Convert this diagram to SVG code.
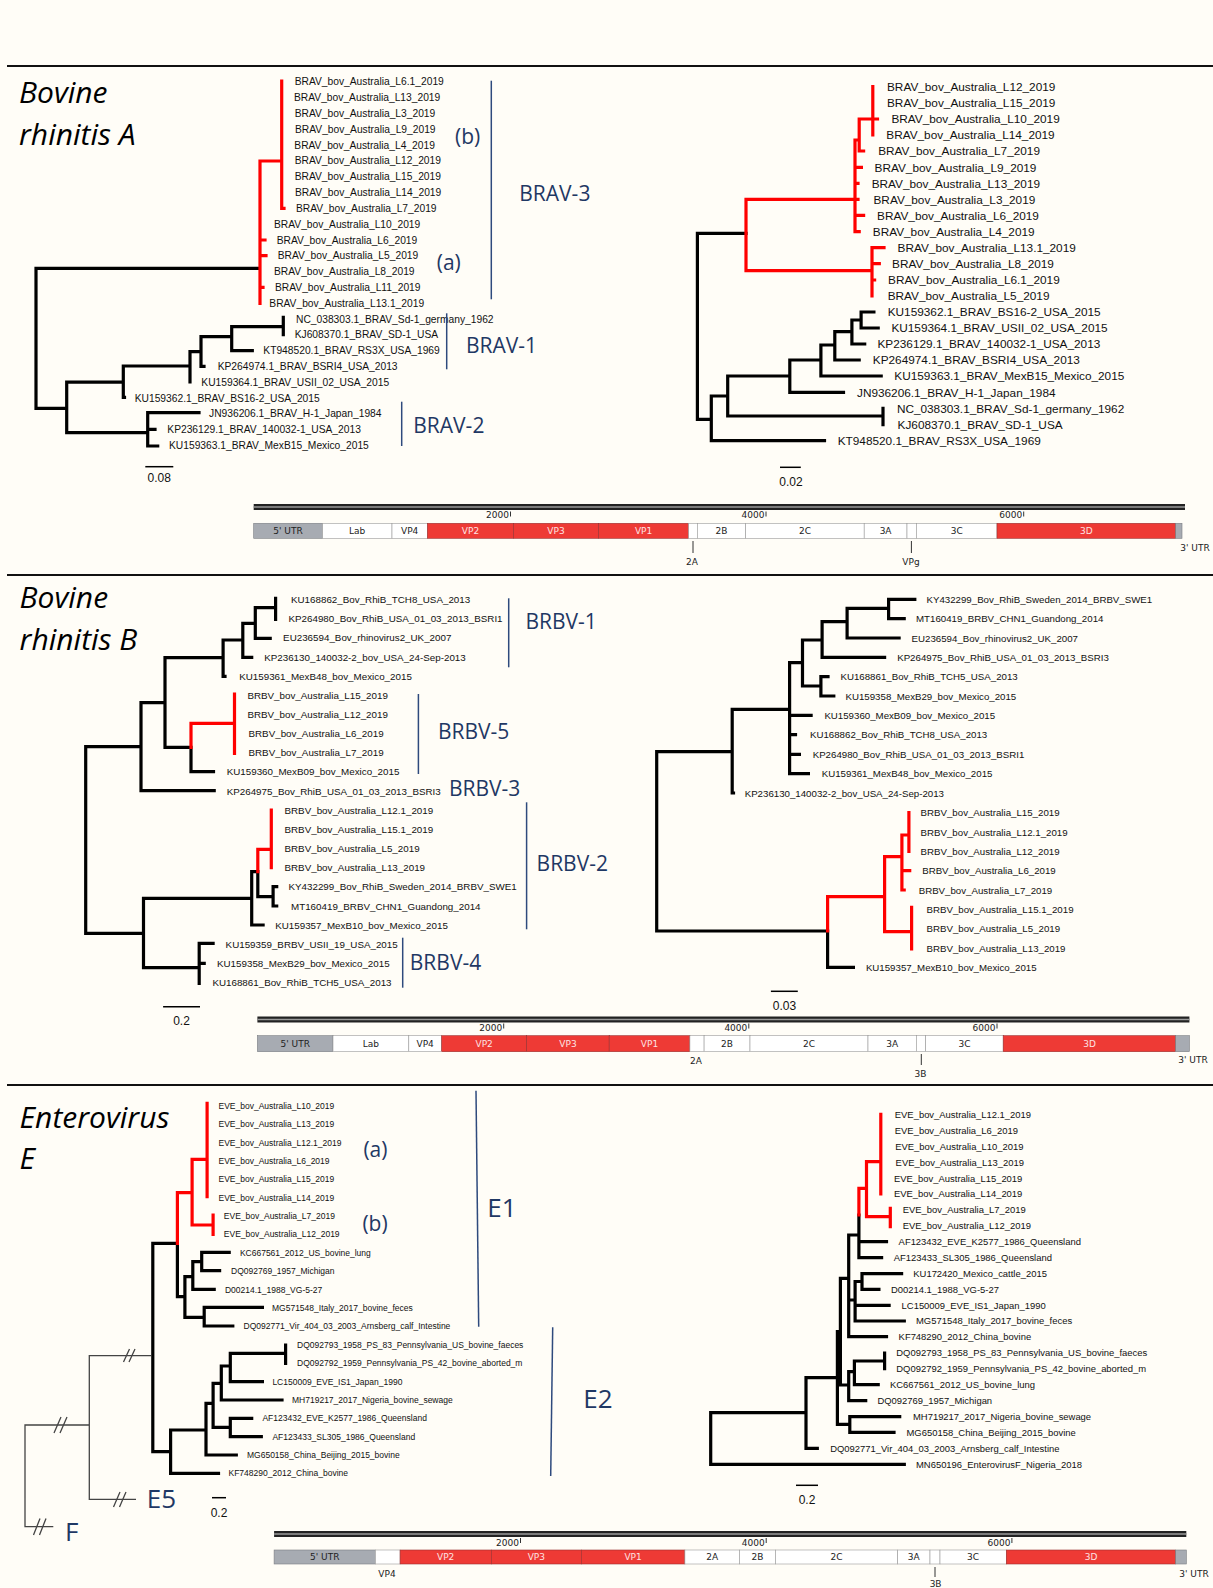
<svg xmlns="http://www.w3.org/2000/svg" width="1213" height="1588" viewBox="0 0 1213 1588">
<defs>
<style>
.bg{fill:#fffdf7}
.sep{stroke:#111;stroke-width:2;fill:none}
.br{fill:none;stroke:#000;stroke-width:3.2;stroke-linecap:square;stroke-linejoin:miter}
.rd{fill:none;stroke:#ff0000;stroke-width:3.2;stroke-linecap:square;stroke-linejoin:miter}
.thin{fill:none;stroke:#444;stroke-width:1.3}
.bar{stroke:#2e4a7d;stroke-width:1.5;fill:none}
.sb{stroke:#000;stroke-width:1.5;fill:none}
.title{font-family:"Open Sans","Liberation Sans",sans-serif;font-style:italic;font-size:30px;fill:#000}
.cl{font-family:"Open Sans","Liberation Sans",sans-serif;font-size:21px;fill:#1f3864}
.clb{font-family:"Open Sans","Liberation Sans",sans-serif;font-size:26px;fill:#1f3864}
.lf{font-family:"Liberation Sans",Arial,sans-serif;fill:#111}
.f1{font-size:10.25px}.f2{font-size:11.8px}.f3{font-size:9.8px}.f4{font-size:9.7px}.f5{font-size:8.5px}.f6{font-size:9.43px}
.sl{font-family:"Liberation Sans",Arial,sans-serif;font-size:12px;fill:#111;text-anchor:middle}
.gr{fill:#ee3a35;stroke:#9a3030;stroke-width:0.6}
.gw{fill:#fff;stroke:#9a9a9a;stroke-width:0.6}
.gg{fill:#a7abb2;stroke:#7a7d82;stroke-width:0.6}
.gt{font-family:"DejaVu Sans","Liberation Sans",sans-serif;font-size:9px;fill:#222;text-anchor:middle}
.gtw{font-family:"DejaVu Sans","Liberation Sans",sans-serif;font-size:9px;fill:#fde3e3;text-anchor:middle}
.tk{stroke:#333;stroke-width:1;fill:none}
.gline{fill:#222}
.gmid{stroke:#9a9a9a;stroke-width:1.6}
</style>
</defs>
<rect class="bg" x="0" y="0" width="1213" height="1588"/>
<g id="separators">
<line class="sep" x1="7" y1="66" x2="1213" y2="66"/>
<line class="sep" x1="7" y1="575" x2="1213" y2="575"/>
<line class="sep" x1="7" y1="1085" x2="1213" y2="1085"/>
</g>

<!-- ===== Panel 1 ===== -->
<g id="title-brav">
<text class="title" x="19" y="102.7">Bovine</text>
<text class="title" x="19" y="145">rhinitis A</text>
</g>
<g id="brav-left-connectors">
<path class="br" d="M36,268.3H258.3M36,268.3V408.3H66.7M66.7,382.2V432.7M66.7,382.2H123.3M123.3,366V397.3H124.5M123.3,366H190M190,351.7V382M190,351.7H201M201,336.7V366.3H204M201,336.7H231.7M231.7,326.7V350.7H252.3M231.7,326.7H283.3M283.3,317.3V334.7M66.7,432.7H147.7M147.7,412.7V446M147.7,412.7H199M147.7,429.3H155M147.7,446H157.7"/>
<path class="rd" d="M260,161V303.3M260,161H281.7M281.7,81V208.3H284M260,240H265M260,255.7H266M260,287.3H263"/>
</g>
<g id="brav-left-labels" class="lf f1">
<text x="294.7" y="85.4">BRAV_bov_Australia_L6.1_2019</text>
<text x="294" y="101.4">BRAV_bov_Australia_L13_2019</text>
<text x="294.7" y="117">BRAV_bov_Australia_L3_2019</text>
<text x="295" y="133">BRAV_bov_Australia_L9_2019</text>
<text x="294.3" y="148.7">BRAV_bov_Australia_L4_2019</text>
<text x="294.7" y="164.4">BRAV_bov_Australia_L12_2019</text>
<text x="294.7" y="180.4">BRAV_bov_Australia_L15_2019</text>
<text x="295" y="196.4">BRAV_bov_Australia_L14_2019</text>
<text x="296" y="212">BRAV_bov_Australia_L7_2019</text>
<text x="274" y="227.7">BRAV_bov_Australia_L10_2019</text>
<text x="276.7" y="243.7">BRAV_bov_Australia_L6_2019</text>
<text x="277.7" y="259.4">BRAV_bov_Australia_L5_2019</text>
<text x="274" y="275.4">BRAV_bov_Australia_L8_2019</text>
<text x="275" y="291">BRAV_bov_Australia_L11_2019</text>
<text x="269.3" y="307">BRAV_bov_Australia_L13.1_2019</text>
<text x="296" y="322.7">NC_038303.1_BRAV_Sd-1_germany_1962</text>
<text x="294.7" y="338.4">KJ608370.1_BRAV_SD-1_USA</text>
<text x="263.3" y="354.4">KT948520.1_BRAV_RS3X_USA_1969</text>
<text x="217.7" y="370">KP264974.1_BRAV_BSRI4_USA_2013</text>
<text x="201.3" y="385.7">KU159364.1_BRAV_USII_02_USA_2015</text>
<text x="134.7" y="401.7">KU159362.1_BRAV_BS16-2_USA_2015</text>
<text x="209" y="417.4">JN936206.1_BRAV_H-1_Japan_1984</text>
<text x="167.3" y="433">KP236129.1_BRAV_140032-1_USA_2013</text>
<text x="169" y="449">KU159363.1_BRAV_MexB15_Mexico_2015</text>
</g>
<g id="brav-clades">
<line class="bar" x1="491.3" y1="80.7" x2="491.3" y2="299.3"/>
<line class="bar" x1="446.7" y1="313.3" x2="446.7" y2="369.3"/>
<line class="bar" x1="401.7" y1="401.7" x2="401.7" y2="446"/>
<text class="cl" x="455" y="143.5">(b)</text>
<text class="cl" x="436.7" y="270">(a)</text>
<text class="cl" x="519.3" y="200.8">BRAV-3</text>
<text class="cl" x="466" y="352.5">BRAV-1</text>
<text class="cl" x="413.3" y="433.2">BRAV-2</text>
</g>
<g id="brav-left-scale">
<line class="sb" x1="145.3" y1="466.7" x2="173.3" y2="466.7"/>
<text class="sl" x="159.3" y="482">0.08</text>
</g>

<g id="brav-right-connectors">
<path class="br" d="M697.4,233.3V419.3M697.4,233.3H746M697.4,419.3H711.3M711.3,396V440.7H824.5M711.3,396H727.7M727.7,376V416H883M883,408.3V424.7M727.7,376H789.8M789.8,360V392.3H843.5M789.8,360H820.9M820.9,345V376H881.2M820.9,345H834.8M834.8,331.7V360H859.2M834.8,331.7H851.9M851.9,320V344H864.7M851.9,320H861.1M861.1,312V328H878.2M861.1,312H873.9"/>
<path class="rd" d="M746,199.3V270.7M746,199.3H855M746,270.7H872M855,140V231.7H859.2M855,140H859.2M859.2,119V151H863.6M859.2,119H872.8M872.8,86.7V135M872.8,119H877.5M855,167.3H861.4M855,183.3H858M855,199.3H858M855,215.3H863.6M872,247.7V296M872,247.7H884M872,263.7H879.3M872,280H874.6"/>
</g>
<g id="brav-right-labels" class="lf f2">
<text x="887" y="90.9">BRAV_bov_Australia_L12_2019</text>
<text x="887" y="107.2">BRAV_bov_Australia_L15_2019</text>
<text x="891.4" y="123.2">BRAV_bov_Australia_L10_2019</text>
<text x="886.3" y="139.2">BRAV_bov_Australia_L14_2019</text>
<text x="878.2" y="155.2">BRAV_bov_Australia_L7_2019</text>
<text x="874.6" y="171.5">BRAV_bov_Australia_L9_2019</text>
<text x="871.7" y="187.5">BRAV_bov_Australia_L13_2019</text>
<text x="873.5" y="203.5">BRAV_bov_Australia_L3_2019</text>
<text x="877.1" y="219.5">BRAV_bov_Australia_L6_2019</text>
<text x="872.8" y="235.9">BRAV_bov_Australia_L4_2019</text>
<text x="897.6" y="251.9">BRAV_bov_Australia_L13.1_2019</text>
<text x="892.1" y="267.9">BRAV_bov_Australia_L8_2019</text>
<text x="888.1" y="284.2">BRAV_bov_Australia_L6.1_2019</text>
<text x="887.7" y="300.2">BRAV_bov_Australia_L5_2019</text>
<text x="887.7" y="316.2">KU159362.1_BRAV_BS16-2_USA_2015</text>
<text x="891.4" y="332.2">KU159364.1_BRAV_USII_02_USA_2015</text>
<text x="877.5" y="348.2">KP236129.1_BRAV_140032-1_USA_2013</text>
<text x="872.8" y="364.2">KP264974.1_BRAV_BSRI4_USA_2013</text>
<text x="894.3" y="380.2">KU159363.1_BRAV_MexB15_Mexico_2015</text>
<text x="857" y="396.5">JN936206.1_BRAV_H-1_Japan_1984</text>
<text x="896.9" y="412.5">NC_038303.1_BRAV_Sd-1_germany_1962</text>
<text x="897.6" y="428.9">KJ608370.1_BRAV_SD-1_USA</text>
<text x="837.7" y="444.9">KT948520.1_BRAV_RS3X_USA_1969</text>
</g>
<g id="brav-right-scale">
<line class="sb" x1="780" y1="467.3" x2="800.8" y2="467.3"/>
<text class="sl" x="791" y="486">0.02</text>
</g>

<g id="genome-brav">
<rect class="gline" x="253.7" y="504" width="931.3" height="6"/>
<line class="gmid" x1="253.7" y1="507" x2="1185" y2="507"/>
<path class="tk" d="M510.5,511.5V516.5M766,511.5V516.5M1023.7,511.5V516.5"/>
<g class="gt" style="text-anchor:end"><text x="509" y="518.3">2000</text><text x="764.5" y="518.3">4000</text><text x="1022.2" y="518.3">6000</text></g>
<rect class="gg" x="253.7" y="523.3" width="68.8" height="15"/>
<rect class="gw" x="322.5" y="523.3" width="69.5" height="15"/>
<rect class="gw" x="392" y="523.3" width="35.4" height="15"/>
<rect class="gr" x="427.4" y="523.3" width="86.2" height="15"/>
<rect class="gr" x="513.6" y="523.3" width="85" height="15"/>
<rect class="gr" x="598.6" y="523.3" width="90" height="15"/>
<rect class="gw" x="688.6" y="523.3" width="8.7" height="15"/>
<rect class="gw" x="697.3" y="523.3" width="48.4" height="15"/>
<rect class="gw" x="745.7" y="523.3" width="118.5" height="15"/>
<rect class="gw" x="864.2" y="523.3" width="42.8" height="15"/>
<rect class="gw" x="907" y="523.3" width="9.4" height="15"/>
<rect class="gw" x="916.4" y="523.3" width="80.6" height="15"/>
<rect class="gr" x="997" y="523.3" width="178.7" height="15"/>
<rect class="gg" x="1175.7" y="523.3" width="6.3" height="15"/>
<text class="gt" x="288" y="534.2">5' UTR</text>
<text class="gt" x="357.2" y="534.2">Lab</text>
<text class="gt" x="409.7" y="534.2">VP4</text>
<text class="gtw" x="470.5" y="534.2">VP2</text>
<text class="gtw" x="556" y="534.2">VP3</text>
<text class="gtw" x="643.6" y="534.2">VP1</text>
<text class="gt" x="721.5" y="534.2">2B</text>
<text class="gt" x="805" y="534.2">2C</text>
<text class="gt" x="885.6" y="534.2">3A</text>
<text class="gt" x="956.7" y="534.2">3C</text>
<text class="gtw" x="1086.4" y="534.2">3D</text>
<path class="tk" d="M693,541V553M911.4,541V553"/>
<text class="gt" x="692" y="565">2A</text>
<text class="gt" x="911" y="565">VPg</text>
<text class="gt" x="1195" y="551">3' UTR</text>
</g>

<!-- ===== Panel 2 ===== -->
<g id="title-brbv">
<text class="title" x="19.6" y="607.7">Bovine</text>
<text class="title" x="19.6" y="650">rhinitis B</text>
</g>
<g id="brbv-left-connectors">
<path class="br" d="M85.7,746.7V933.3M85.7,746.7H141M141,702.7V790.7H214.2M141,702.7H165M165,657.7V747.3H191M191,747.3V771.7H213.5M165,657.7H223.1M223.1,640V676.3H225M223.1,640H242.8M242.8,623.3V657.3H251.7M242.8,623.3H255.3M255.3,607.7V638.3H270.2M255.3,607.7H275.6M275.6,598.3V619.3M85.7,933.3H143.5M143.5,898.3V967.7H199.2M143.5,898.3H251.7M251.7,871.7V925H263.1M251.7,871.7H257.8M257.8,871.7V896.7H273.1M273.1,886.7V906H276.7M273.1,886.7H276.7M199.2,943.3V983.3M199.2,943.3H213.1M199.2,963.3H204.2"/>
<path class="rd" d="M191,723.3V747.3M191,723.3H234.5M234.5,694V753.3M257.8,849.3V871.7M257.8,849.3H271.3M271.3,810V867.7"/>
</g>
<g id="brbv-left-labels" class="lf f3">
<text x="291" y="602.9">KU168862_Bov_RhiB_TCH8_USA_2013</text>
<text x="288.5" y="622.3">KP264980_Bov_RhiB_USA_01_03_2013_BSRI1</text>
<text x="283.1" y="641.3">EU236594_Bov_rhinovirus2_UK_2007</text>
<text x="264.2" y="660.6">KP236130_140032-2_bov_USA_24-Sep-2013</text>
<text x="239.2" y="679.9">KU159361_MexB48_bov_Mexico_2015</text>
<text x="247.4" y="698.9">BRBV_bov_Australia_L15_2019</text>
<text x="247.4" y="717.9">BRBV_bov_Australia_L12_2019</text>
<text x="248.5" y="736.9">BRBV_bov_Australia_L6_2019</text>
<text x="248.5" y="756.3">BRBV_bov_Australia_L7_2019</text>
<text x="226.7" y="775.3">KU159360_MexB09_bov_Mexico_2015</text>
<text x="226.7" y="794.6">KP264975_Bov_RhiB_USA_01_03_2013_BSRI3</text>
<text x="284.5" y="813.6">BRBV_bov_Australia_L12.1_2019</text>
<text x="284.5" y="832.9">BRBV_bov_Australia_L15.1_2019</text>
<text x="284.5" y="851.9">BRBV_bov_Australia_L5_2019</text>
<text x="284.5" y="871.3">BRBV_bov_Australia_L13_2019</text>
<text x="288.5" y="890.3">KY432299_Bov_RhiB_Sweden_2014_BRBV_SWE1</text>
<text x="291" y="909.6">MT160419_BRBV_CHN1_Guandong_2014</text>
<text x="275.2" y="928.6">KU159357_MexB10_bov_Mexico_2015</text>
<text x="225.6" y="947.9">KU159359_BRBV_USII_19_USA_2015</text>
<text x="217" y="966.9">KU159358_MexB29_bov_Mexico_2015</text>
<text x="212.4" y="986.3">KU168861_Bov_RhiB_TCH5_USA_2013</text>
</g>
<g id="brbv-clades">
<line class="bar" x1="508.7" y1="598.3" x2="508.7" y2="667.3"/>
<line class="bar" x1="418.4" y1="694" x2="418.4" y2="774"/>
<line class="bar" x1="526.6" y1="802.3" x2="526.6" y2="929.3"/>
<line class="bar" x1="402.7" y1="937.7" x2="402.7" y2="987.7"/>
<text class="cl" x="525.5" y="629.2">BRBV-1</text>
<text class="cl" x="438" y="739.2">BRBV-5</text>
<text class="cl" x="449" y="795.8">BRBV-3</text>
<text class="cl" x="536.6" y="871.2">BRBV-2</text>
<text class="cl" x="409.8" y="970.2">BRBV-4</text>
</g>
<g id="brbv-left-scale">
<line class="sb" x1="163.1" y1="1006.7" x2="200" y2="1006.7"/>
<text class="sl" x="181.5" y="1024.5">0.2</text>
</g>

<g id="brbv-right-connectors">
<path class="br" d="M656.7,751.7V931M656.7,751.7H732.2M732.2,709.3V793H733.5M732.2,709.3H789.6M789.6,662.7V773.7H808.4M789.6,715.3H811.1M789.6,734.7H795.5M789.6,754.3H799.4M789.6,662.7H802.5M802.5,640V686H820.9M802.5,640H822.1M820.9,676.7V696H833.8M820.9,676.7H828M822.1,621.7V657.3H884.6M822.1,621.7H847.1M847.1,608.3V638H899.1M847.1,608.3H888.6M888.6,599.3V618.7H904.2M888.6,599.3H914.8M656.7,931H827.6M827.6,931V967.3H853.4"/>
<path class="rd" d="M827.6,896.7V931M827.6,896.7H884.6M884.6,856.7V931.7M884.6,856.7H901.9M901.9,835V890H904.2M901.9,835H908.9M908.9,812.7V851.3M901.9,870.7H909.7M884.6,931.7H911.6M911.6,907.3V949"/>
</g>
<g id="brbv-right-labels" class="lf f4">
<text x="926.5" y="602.8">KY432299_Bov_RhiB_Sweden_2014_BRBV_SWE1</text>
<text x="916" y="622.2">MT160419_BRBV_CHN1_Guandong_2014</text>
<text x="911.6" y="641.5">EU236594_Bov_rhinovirus2_UK_2007</text>
<text x="897.2" y="660.8">KP264975_Bov_RhiB_USA_01_03_2013_BSRI3</text>
<text x="840.5" y="680.2">KU168861_Bov_RhiB_TCH5_USA_2013</text>
<text x="845.5" y="699.5">KU159358_MexB29_bov_Mexico_2015</text>
<text x="824.4" y="718.8">KU159360_MexB09_bov_Mexico_2015</text>
<text x="810" y="738.2">KU168862_Bov_RhiB_TCH8_USA_2013</text>
<text x="812.7" y="757.8">KP264980_Bov_RhiB_USA_01_03_2013_BSRI1</text>
<text x="821.7" y="777.2">KU159361_MexB48_bov_Mexico_2015</text>
<text x="744.7" y="796.5">KP236130_140032-2_bov_USA_24-Sep-2013</text>
<text x="920.6" y="816.2">BRBV_bov_Australia_L15_2019</text>
<text x="920.6" y="835.5">BRBV_bov_Australia_L12.1_2019</text>
<text x="920.6" y="854.8">BRBV_bov_Australia_L12_2019</text>
<text x="922.2" y="874.2">BRBV_bov_Australia_L6_2019</text>
<text x="918.7" y="893.5">BRBV_bov_Australia_L7_2019</text>
<text x="926.5" y="912.8">BRBV_bov_Australia_L15.1_2019</text>
<text x="926.5" y="932.2">BRBV_bov_Australia_L5_2019</text>
<text x="926.5" y="951.5">BRBV_bov_Australia_L13_2019</text>
<text x="865.9" y="970.8">KU159357_MexB10_bov_Mexico_2015</text>
</g>
<g id="brbv-right-scale">
<line class="sb" x1="770.9" y1="991.3" x2="797.8" y2="991.3"/>
<text class="sl" x="784.5" y="1010">0.03</text>
</g>

<g id="genome-brbv">
<rect class="gline" x="257.4" y="1016.5" width="932" height="6"/>
<line class="gmid" x1="257.4" y1="1019.5" x2="1189.4" y2="1019.5"/>
<path class="tk" d="M503.7,1023.5V1028.5M748.8,1023.5V1028.5M997,1023.5V1028.5"/>
<g class="gt" style="text-anchor:end"><text x="502.2" y="1031">2000</text><text x="747.3" y="1031">4000</text><text x="995.5" y="1031">6000</text></g>
<rect class="gg" x="257.4" y="1035.7" width="75.6" height="16"/>
<rect class="gw" x="333" y="1035.7" width="75.8" height="16"/>
<rect class="gw" x="408.8" y="1035.7" width="32.9" height="16"/>
<rect class="gr" x="441.7" y="1035.7" width="85" height="16"/>
<rect class="gr" x="526.7" y="1035.7" width="82.5" height="16"/>
<rect class="gr" x="609.2" y="1035.7" width="80.7" height="16"/>
<rect class="gw" x="689.9" y="1035.7" width="14.2" height="16"/>
<rect class="gw" x="704.1" y="1035.7" width="45.9" height="16"/>
<rect class="gw" x="750" y="1035.7" width="118" height="16"/>
<rect class="gw" x="868" y="1035.7" width="48.3" height="16"/>
<rect class="gw" x="916.3" y="1035.7" width="9.4" height="16"/>
<rect class="gw" x="925.7" y="1035.7" width="77.5" height="16"/>
<rect class="gr" x="1003.2" y="1035.7" width="172.5" height="16"/>
<rect class="gg" x="1175.7" y="1035.7" width="13.7" height="16"/>
<text class="gt" x="295.2" y="1047">5' UTR</text>
<text class="gt" x="370.9" y="1047">Lab</text>
<text class="gt" x="425.2" y="1047">VP4</text>
<text class="gtw" x="484.2" y="1047">VP2</text>
<text class="gtw" x="568" y="1047">VP3</text>
<text class="gtw" x="649.5" y="1047">VP1</text>
<text class="gt" x="727" y="1047">2B</text>
<text class="gt" x="809" y="1047">2C</text>
<text class="gt" x="892.2" y="1047">3A</text>
<text class="gt" x="964.5" y="1047">3C</text>
<text class="gtw" x="1089.5" y="1047">3D</text>
<text class="gt" x="696" y="1064">2A</text>
<path class="tk" d="M921.3,1054V1065"/>
<text class="gt" x="920.4" y="1076.5">3B</text>
<text class="gt" x="1193" y="1063">3' UTR</text>
</g>

<!-- ===== Panel 3 ===== -->
<g id="title-eve">
<text class="title" x="19.6" y="1128.3">Enterovirus</text>
<text class="title" x="19.6" y="1169.3">E</text>
</g>
<g id="eve-left-connectors">
<path class="br" d="M152.8,1243.3V1451.7M152.8,1243.3H177.4M177.4,1243.3V1296.7H184.9M184.9,1276.7V1317.3H204.2M184.9,1276.7H192.8M192.8,1261.7V1289.3H214.2M192.8,1261.7H201.7M201.7,1252.3V1270.7H219.6M201.7,1252.3H229.2M204.2,1307.3V1326H232.8M204.2,1307.3H262.4M152.8,1451.7H170.6M170.6,1430V1473.3H218.5M170.6,1430H206M206,1403.3V1455H236.3M206,1403.3H213.1M213.1,1383.3V1427.3H230.3M213.1,1383.3H221.3M230.3,1418.3V1436.7H261.3M230.3,1418.3H251.7M221.3,1366V1400H282M221.3,1366H230.3M230.3,1353.3V1381.7H262.4M230.3,1353.3H285.6M285.6,1345V1363.3"/>
<path class="rd" d="M177.4,1192.7V1243.3M177.4,1192.7H192.1M192.1,1159.3V1225H213.1M192.1,1159.3H207.1M207.1,1103.3V1196.7M213.1,1215V1234.3"/>
<path class="thin" d="M151,1355.7H89.3V1499.3H136M89.3,1425H25V1526.7H53.3"/>
<path class="thin" d="M123.5,1362L129.5,1349M129,1362L135,1349M54,1433L61,1417M60,1433L67,1417M113.5,1507L120,1492M119.5,1507L126,1492M33.5,1535L40,1518.5M39.5,1535L46,1518.5"/>
</g>
<g id="eve-left-labels" class="lf f5">
<text x="218.5" y="1108.8">EVE_bov_Australia_L10_2019</text>
<text x="218.5" y="1127.1">EVE_bov_Australia_L13_2019</text>
<text x="218.5" y="1145.8">EVE_bov_Australia_L12.1_2019</text>
<text x="218.5" y="1164.1">EVE_bov_Australia_L6_2019</text>
<text x="218.5" y="1182.4">EVE_bov_Australia_L15_2019</text>
<text x="218.5" y="1200.8">EVE_bov_Australia_L14_2019</text>
<text x="223.8" y="1219.1">EVE_bov_Australia_L7_2019</text>
<text x="223.8" y="1237.4">EVE_bov_Australia_L12_2019</text>
<text x="239.9" y="1256.1">KC667561_2012_US_bovine_lung</text>
<text x="231" y="1274.4">DQ092769_1957_Michigan</text>
<text x="224.9" y="1292.8">D00214.1_1988_VG-5-27</text>
<text x="272" y="1311.1">MG571548_Italy_2017_bovine_feces</text>
<text x="243.5" y="1329.4">DQ092771_Vir_404_03_2003_Arnsberg_calf_Intestine</text>
<text x="297" y="1348.1">DQ092793_1958_PS_83_Pennsylvania_US_bovine_faeces</text>
<text x="297" y="1366.4">DQ092792_1959_Pennsylvania_PS_42_bovine_aborted_m</text>
<text x="272.4" y="1384.8">LC150009_EVE_IS1_Japan_1990</text>
<text x="292" y="1403.1">MH719217_2017_Nigeria_bovine_sewage</text>
<text x="262.4" y="1421.4">AF123432_EVE_K2577_1986_Queensland</text>
<text x="272.4" y="1439.8">AF123433_SL305_1986_Queensland</text>
<text x="247" y="1458.1">MG650158_China_Beijing_2015_bovine</text>
<text x="228.5" y="1476.4">KF748290_2012_China_bovine</text>
</g>
<g id="eve-clades">
<line class="bar" x1="476" y1="1090.7" x2="478.7" y2="1326.7"/>
<line class="bar" x1="552.7" y1="1327.3" x2="550.7" y2="1476"/>
<text class="cl" x="363.4" y="1156.5">(a)</text>
<text class="cl" x="362.4" y="1230.5">(b)</text>
<text class="clb" x="487.3" y="1216.6">E1</text>
<text class="clb" x="583.3" y="1407.6">E2</text>
<text class="clb" x="146.7" y="1507.6">E5</text>
<text class="clb" x="65" y="1541">F</text>
</g>
<g id="eve-left-scale">
<line class="sb" x1="212" y1="1497.7" x2="226" y2="1497.7"/>
<text class="sl" x="219" y="1516.5">0.2</text>
</g>

<g id="eve-right-connectors">
<path class="br" d="M710.7,1412.7V1464.3H904.3M710.7,1412.7H806M806,1377.7V1448.3H817.3M806,1377.7H837.4M837.4,1331.7V1424.3H849.8M849.8,1416.7V1432.3H894M849.8,1416.7H899.7M837.4,1331.7H840.4M840.4,1278.3V1385H848.7M848.7,1371.7V1400.7H865.7M848.7,1371.7H854.4M854.4,1361V1384.7H878.2M854.4,1361H884.6M884.6,1353V1368.7M840.4,1278.3H848.7M848.7,1235V1336.7H886.5M848.7,1235H858.9M858.9,1215V1257.7H881.6M858.9,1241.7H886.5M848.7,1300H855.1M855.1,1281.5V1321H904.3M855.1,1305.3H889.1M855.1,1281.5H862M862,1273.7V1289.3H878.9M862,1273.7H901.6"/>
<path class="rd" d="M858.9,1188.3V1215M858.9,1188.3H866.5M866.5,1161.7V1216.7H890.3M866.5,1161.7H880.8M880.8,1114.3V1194M890.3,1208.3V1226.7"/>
</g>
<g id="eve-right-labels" class="lf f6">
<text x="894.8" y="1117.7">EVE_bov_Australia_L12.1_2019</text>
<text x="894.8" y="1134.1">EVE_bov_Australia_L6_2019</text>
<text x="895.2" y="1149.7">EVE_bov_Australia_L10_2019</text>
<text x="895.6" y="1165.7">EVE_bov_Australia_L13_2019</text>
<text x="894" y="1181.7">EVE_bov_Australia_L15_2019</text>
<text x="894" y="1197.4">EVE_bov_Australia_L14_2019</text>
<text x="902.7" y="1213.4">EVE_bov_Australia_L7_2019</text>
<text x="902.7" y="1229.1">EVE_bov_Australia_L12_2019</text>
<text x="898.6" y="1245.1">AF123432_EVE_K2577_1986_Queensland</text>
<text x="893.7" y="1261.1">AF123433_SL305_1986_Queensland</text>
<text x="913.3" y="1277.1">KU172420_Mexico_cattle_2015</text>
<text x="891" y="1292.7">D00214.1_1988_VG-5-27</text>
<text x="901.6" y="1308.7">LC150009_EVE_IS1_Japan_1990</text>
<text x="916" y="1324.4">MG571548_Italy_2017_bovine_feces</text>
<text x="898.6" y="1340.4">KF748290_2012_China_bovine</text>
<text x="896.3" y="1356.4">DQ092793_1958_PS_83_Pennsylvania_US_bovine_faeces</text>
<text x="896.3" y="1372.1">DQ092792_1959_Pennsylvania_PS_42_bovine_aborted_m</text>
<text x="889.9" y="1388.1">KC667561_2012_US_bovine_lung</text>
<text x="877.4" y="1404.1">DQ092769_1957_Michigan</text>
<text x="913" y="1420.1">MH719217_2017_Nigeria_bovine_sewage</text>
<text x="906.5" y="1435.7">MG650158_China_Beijing_2015_bovine</text>
<text x="830.2" y="1451.7">DQ092771_Vir_404_03_2003_Arnsberg_calf_Intestine</text>
<text x="916" y="1467.7">MN650196_EnterovirusF_Nigeria_2018</text>
</g>
<g id="eve-right-scale">
<line class="sb" x1="796" y1="1485.3" x2="818" y2="1485.3"/>
<text class="sl" x="807" y="1503.5">0.2</text>
</g>

<g id="genome-eve">
<rect class="gline" x="274.1" y="1531" width="912.2" height="6"/>
<line class="gmid" x1="274.1" y1="1534" x2="1186.3" y2="1534"/>
<path class="tk" d="M520.5,1538V1543M766.2,1538V1543M1011.9,1538V1543"/>
<g class="gt" style="text-anchor:end"><text x="519" y="1545.5">2000</text><text x="764.7" y="1545.5">4000</text><text x="1010.4" y="1545.5">6000</text></g>
<rect class="gg" x="274.1" y="1550" width="101.2" height="14"/>
<rect class="gw" x="375.3" y="1550" width="24.8" height="14"/>
<rect class="gr" x="400.1" y="1550" width="91.2" height="14"/>
<rect class="gr" x="491.3" y="1550" width="90" height="14"/>
<rect class="gr" x="581.3" y="1550" width="103.6" height="14"/>
<rect class="gw" x="684.9" y="1550" width="54.6" height="14"/>
<rect class="gw" x="739.5" y="1550" width="36" height="14"/>
<rect class="gw" x="775.5" y="1550" width="122.2" height="14"/>
<rect class="gw" x="897.7" y="1550" width="32.3" height="14"/>
<rect class="gw" x="930" y="1550" width="10" height="14"/>
<rect class="gw" x="940" y="1550" width="66.3" height="14"/>
<rect class="gr" x="1006.3" y="1550" width="169.4" height="14"/>
<rect class="gg" x="1175.7" y="1550" width="10.6" height="14"/>
<text class="gt" x="324.7" y="1560.3">5' UTR</text>
<text class="gtw" x="445.7" y="1560.3">VP2</text>
<text class="gtw" x="536.3" y="1560.3">VP3</text>
<text class="gtw" x="633.1" y="1560.3">VP1</text>
<text class="gt" x="712.2" y="1560.3">2A</text>
<text class="gt" x="757.5" y="1560.3">2B</text>
<text class="gt" x="836.6" y="1560.3">2C</text>
<text class="gt" x="913.8" y="1560.3">3A</text>
<text class="gt" x="973.1" y="1560.3">3C</text>
<text class="gtw" x="1091" y="1560.3">3D</text>
<text class="gt" x="387" y="1577">VP4</text>
<path class="tk" d="M935,1567V1577"/>
<text class="gt" x="935.6" y="1587">3B</text>
<text class="gt" x="1194" y="1577">3' UTR</text>
</g>
</svg>
